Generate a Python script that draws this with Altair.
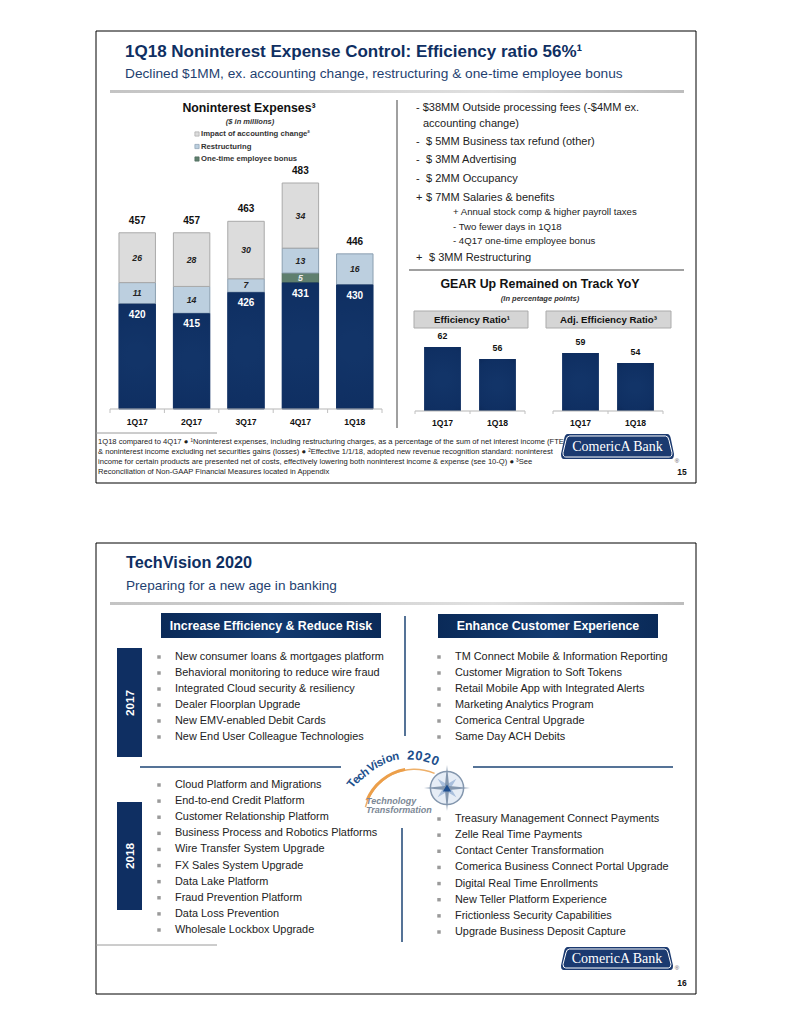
import altair as alt
import pandas as pd

SANS = "Liberation Sans"
SERIF = "Liberation Serif"
NAVY = "#0f2f62"

quarters = ["1Q17", "2Q17", "3Q17", "4Q17", "1Q18"]
base_values = [420, 415, 426, 431, 430]
bonus_values = [0, 0, 0, 5, 0]
restructuring_values = [11, 14, 7, 13, 16]
impact_values = [26, 28, 30, 34, 0]
total_values = [457, 457, 463, 483, 446]
series_names = ["Base", "One-time employee bonus", "Restructuring", "Impact of accounting change²"]
series_fill = ["#0f2f62", "#5f7f6e", "#bccfdf", "#dcdcdc"]
series_edge = ["#0f2f62", "#4f6b5c", "#8b9fb1", "#a9a9a9"]

ratio_quarters = ["1Q17", "1Q18"]
efficiency_values = [62, 56]
adjusted_values = [59, 54]

slide1_notes = [
    "1Q18 compared to 4Q17 ● ¹Noninterest expenses, including restructuring charges, as a percentage of the sum of net interest income (FTE)",
    "& noninterest income excluding net securities gains (losses) ● ²Effective 1/1/18, adopted new revenue recognition standard: noninterest",
    "income for certain products are presented net of costs, effectively lowering both noninterest income & expense (see 10-Q) ● ³See",
    "Reconciliation of Non-GAAP Financial Measures located in Appendix",
]
top_left_items = [
    "New consumer loans & mortgages platform",
    "Behavioral monitoring to reduce wire fraud",
    "Integrated Cloud security & resiliency",
    "Dealer Floorplan Upgrade",
    "New EMV-enabled Debit Cards",
    "New End User Colleague Technologies",
]
top_right_items = [
    "TM Connect Mobile & Information Reporting",
    "Customer Migration to Soft Tokens",
    "Retail Mobile App with Integrated Alerts",
    "Marketing Analytics Program",
    "Comerica Central Upgrade",
    "Same Day ACH Debits",
]
bottom_left_items = [
    "Cloud Platform and Migrations",
    "End-to-end Credit Platform",
    "Customer Relationship Platform",
    "Business Process and Robotics Platforms",
    "Wire Transfer System Upgrade",
    "FX Sales System Upgrade",
    "Data Lake Platform",
    "Fraud Prevention Platform",
    "Data Loss Prevention",
    "Wholesale Lockbox Upgrade",
]
bottom_right_items = [
    "Treasury Management Connect Payments",
    "Zelle Real Time Payments",
    "Contact Center Transformation",
    "Comerica Business Connect Portal Upgrade",
    "Digital Real Time Enrollments",
    "New Teller Platform Experience",
    "Frictionless Security Capabilities",
    "Upgrade Business Deposit Capture",
]

one = pd.DataFrame({"a": [0]})
layers = []


def add(*charts):
    layers.extend(charts)


def txt(s, x, y, size, color="#222222", bold=False, italic=False, align="left", font=SANS, angle=0):
    add(alt.Chart(pd.DataFrame({"t": [s]})).mark_text(
        align=align, baseline="middle", fontSize=size, font=font, color=color, angle=angle,
        fontWeight="bold" if bold else "normal", fontStyle="italic" if italic else "normal",
    ).encode(x=alt.value(x - 8), y=alt.value(y - 8), text="t:N"))


def seg(x1, y1, x2, y2, color, w=1.0):
    add(alt.Chart(one).mark_rule(color=color, strokeWidth=w).encode(
        x=alt.value(x1 - 8), x2=alt.value(x2 - 8), y=alt.value(y1 - 8), y2=alt.value(y2 - 8)))


def box(x1, y1, x2, y2, fill, stroke=None, w=1.0):
    kw = {"stroke": stroke, "strokeWidth": w} if stroke else {}
    add(alt.Chart(one).mark_rect(color=fill, **kw).encode(
        x=alt.value(x1 - 8), x2=alt.value(x2 - 8), y=alt.value(y1 - 8), y2=alt.value(y2 - 8)))


def hgrad(*cols):
    n = len(cols) - 1
    return alt.Gradient(gradient="linear", x1=0, x2=1, y1=0, y2=0,
                        stops=[alt.GradientStop(color=c, offset=i / n) for i, c in enumerate(cols)])


BAR_FILL = alt.Gradient(gradient="radial", x1=0.5, y1=0.5, r1=0.1, x2=0.5, y2=0.5, r2=0.75,
                        stops=[alt.GradientStop(color="#123468", offset=0),
                               alt.GradientStop(color="#0f2f62", offset=0.6),
                               alt.GradientStop(color="#0a2450", offset=1)])


def text_list(items, x, y0, y1, size, color="#222222", bullet_x=None, bold=False):
    yy = alt.Y("item:N", sort=None, axis=None,
               scale=alt.Scale(type="point", range=[y0 - 8, y1 - 8], padding=0))
    d = pd.DataFrame({"item": items})
    add(alt.Chart(d).mark_text(align="left", baseline="middle", font=SANS, fontSize=size, color=color,
                               fontWeight="bold" if bold else "normal").encode(
        x=alt.value(x - 8), y=yy, text="item:N"))
    if bullet_x is not None:
        add(alt.Chart(d).mark_square(color="#9a9a9a", size=12, opacity=1).encode(
            x=alt.value(bullet_x - 8), y=yy))


def logo_path(r):
    return (f"M-0.88,{-r:.3f}L0.88,{-r:.3f}Q0.93,{-r:.3f} 0.945,{-r * 0.6:.3f}L1,{r * 0.6:.3f}"
            f"Q1,{r:.3f} 0.95,{r:.3f}L-0.95,{r:.3f}Q-1,{r:.3f} -1,{r * 0.6:.3f}"
            f"L-0.945,{-r * 0.6:.3f}Q-0.93,{-r:.3f} -0.88,{-r:.3f}Z")


def logo(x1, y1, x2, y2, reg_x, reg_y):
    w = x2 - x1
    h = y2 - y1
    cx, cy = (x1 + x2) / 2 - 8, (y1 + y2) / 2 - 8
    add(alt.Chart(one).mark_point(shape=logo_path(h / w), size=w * w, filled=True, color="#1b3a70",
                                  opacity=1).encode(x=alt.value(cx), y=alt.value(cy)))
    add(alt.Chart(one).mark_point(shape=logo_path((h - 4) / (w - 4)), size=(w - 4) ** 2, filled=False,
                                  color="#ffffff", opacity=1, strokeWidth=1).encode(
        x=alt.value(cx), y=alt.value(cy)))
    txt("ComericA Bank", (x1 + x2) / 2, (y1 + y2) / 2, 14, color="#ffffff", align="center", font=SERIF)
    txt("®", reg_x, reg_y, 6, color="#555555", align="center")


# ---------- frames ----------
box(96, 31, 696, 483, "#ffffff", "#000000", 1)
box(96, 543, 696, 994, "#ffffff", "#000000", 1)

# ---------- slide 15 header ----------
txt("1Q18 Noninterest Expense Control: Efficiency ratio 56%¹", 125, 52, 17, NAVY, bold=True)
txt("Declined $1MM, ex. accounting change, restructuring & one-time employee bonus", 125, 74, 13.7, "#1f3f70")
box(110, 90, 684, 93, hgrad("#c4c4c4", "#d0d0d0", "#e0e0e0", "#bdbdbd"))

# ---------- noninterest expenses ----------
txt("Noninterest Expenses³", 249, 108, 12.3, "#111111", bold=True, align="center")
txt("($ in millions)", 250, 122, 7.5, "#333333", bold=True, italic=True, align="center")
text_list(series_names[3:] + series_names[2:3] + series_names[1:2], 201, 134, 159, 7.7, "#333333", bold=True)
legend_df = pd.DataFrame({"name": series_names[1:][::-1]})
add(alt.Chart(legend_df).mark_square(size=18, opacity=1, strokeWidth=0.7).encode(
    x=alt.value(197 - 8),
    y=alt.Y("name:N", sort=None, axis=None, scale=alt.Scale(type="point", range=[126, 151], padding=0)),
    color=alt.Color("name:N", legend=None, scale=alt.Scale(domain=series_names, range=series_fill)),
    stroke=alt.Stroke("name:N", legend=None, scale=alt.Scale(domain=series_names, range=series_edge)),
))

rows = []
columns = [base_values, bonus_values, restructuring_values, impact_values]
for q_i, q in enumerate(quarters):
    for s_i, name in enumerate(series_names):
        v = columns[s_i][q_i]
        if v:
            rows.append({"quarter": q, "series": name, "rank": s_i, "value": v})
stack_df = pd.DataFrame(rows)
totals_df = pd.DataFrame({"quarter": quarters, "total": total_values})

x_stack = alt.X("quarter:N", sort=quarters, axis=None,
                scale=alt.Scale(type="band", domain=quarters, range=[102, 374], paddingInner=0.33, paddingOuter=0.165))
y_scale = alt.Scale(domain=[365, 483], range=[401, 175], clamp=True, nice=False, zero=False)
stacked = alt.Chart(stack_df).transform_stack(
    stack="value", as_=["y0", "y1"], groupby=["quarter"], sort=[alt.SortField("rank")]
).transform_calculate(mid="(datum.y0 + datum.y1) / 2")

add(stacked.mark_bar(strokeWidth=1).encode(
    x=x_stack,
    y=alt.Y("y1:Q", scale=y_scale, axis=None),
    y2="y0:Q",
    color=alt.Color("series:N", legend=None, scale=alt.Scale(domain=series_names, range=series_fill)),
    stroke=alt.Stroke("series:N", legend=None, scale=alt.Scale(domain=series_names, range=series_edge)),
))
add(stacked.transform_filter("datum.rank == 0").mark_bar(color=BAR_FILL).encode(
    x=x_stack, y=alt.Y("y1:Q", scale=y_scale, axis=None), y2="y0:Q"))
add(stacked.transform_filter("datum.rank > 0").mark_text(
    font=SANS, fontSize=8.7, fontWeight="bold", fontStyle="italic", baseline="middle").encode(
    x=x_stack, y=alt.Y("mid:Q", scale=y_scale, axis=None), text="value:Q",
    color=alt.condition("datum.rank == 1", alt.value("#eeeeee"), alt.value("#222222"))))
add(stacked.transform_filter("datum.rank == 0").mark_text(
    font=SANS, fontSize=10, fontWeight="bold", baseline="middle", color="#ffffff", dy=11).encode(
    x=x_stack, y=alt.Y("y1:Q", scale=y_scale, axis=None), text="value:Q"))
add(alt.Chart(totals_df).mark_text(
    font=SANS, fontSize=10, fontWeight="bold", baseline="middle", color="#111111", dy=-12).encode(
    x=x_stack, y=alt.Y("total:Q", scale=y_scale, axis=None), text="total:Q"))
add(alt.Chart(totals_df).mark_text(
    font=SANS, fontSize=8.6, fontWeight="bold", baseline="middle", color="#111111").encode(
    x=x_stack, y=alt.value(422 - 8), text="quarter:N"))

seg(110, 409, 382, 409, "#b5b5b5", 1)
for i in range(6):
    seg(110 + i * 54.4, 409, 110 + i * 54.4, 413, "#c0c0c0", 1)

seg(397, 100, 397, 428, "#808080", 1.5)

# ---------- slide 15 right column ----------
txt("- $38MM Outside processing fees (-$4MM ex.", 416, 108, 11)
txt("accounting change)", 423, 124, 11)
txt("-", 416, 142, 11)
txt("$ 5MM Business tax refund (other)", 426, 142, 11)
txt("-", 416, 160, 11)
txt("$ 3MM Advertising", 426, 160, 11)
txt("-", 416, 179, 11)
txt("$ 2MM Occupancy", 426, 179, 11)
txt("+", 416, 197.5, 11)
txt("$ 7MM Salaries & benefits", 426, 197.5, 11)
txt("+ Annual stock comp & higher payroll taxes", 453, 212, 9.6)
txt("- Two fewer days in 1Q18", 453, 226.5, 9.6)
txt("- 4Q17 one-time employee bonus", 453, 240.5, 9.6)
txt("+", 416, 258, 11)
txt("$ 3MM Restructuring", 429, 258, 11)
seg(409, 270, 684, 270, "#808080", 1.5)

txt("GEAR Up Remained on Track YoY", 540, 284, 12.4, "#111111", bold=True, align="center")
txt("(In percentage points)", 540, 299, 7.5, "#333333", bold=True, italic=True, align="center")
box(414, 311, 528, 328, "#d5d5d5", "#ababab", 1)
box(546, 311, 671, 328, "#d5d5d5", "#ababab", 1)
txt("Efficiency Ratio¹", 472, 320, 9.7, "#111111", bold=True, align="center")
txt("Adj. Efficiency Ratio³", 608.5, 320, 9.7, "#111111", bold=True, align="center")


def ratio_panel(values, x0, x1):
    d = pd.DataFrame({"quarter": ratio_quarters, "value": values})
    xx = alt.X("quarter:N", sort=ratio_quarters, axis=None,
               scale=alt.Scale(type="band", domain=ratio_quarters, range=[x0 - 8, x1 - 8],
                               paddingInner=0.33, paddingOuter=0.165))
    yy = alt.Y("value:Q", axis=None,
               scale=alt.Scale(domain=[30, 62], range=[403, 339], nice=False, zero=False, clamp=True))
    add(alt.Chart(d).mark_bar(color=BAR_FILL).encode(x=xx, y=yy))
    add(alt.Chart(d).mark_text(font=SANS, fontSize=8.8, fontWeight="bold", color="#111111",
                               baseline="middle", dy=-11).encode(x=xx, y=yy, text="value:Q"))
    add(alt.Chart(d).mark_text(font=SANS, fontSize=8.6, fontWeight="bold", color="#111111",
                               baseline="middle").encode(x=xx, y=alt.value(423 - 8), text="quarter:N"))
    seg(x0, 411, x1, 411, "#b5b5b5", 1)
    for k in range(3):
        seg(x0 + k * (x1 - x0) / 2, 411, x0 + k * (x1 - x0) / 2, 414, "#c0c0c0", 1)


ratio_panel(efficiency_values, 415, 525)
ratio_panel(adjusted_values, 553, 663)

# ---------- slide 15 footer ----------
seg(96, 433, 217, 433, "#9a9a9a", 1)
for note, yy_ in zip(slide1_notes, [442, 452, 462, 472]):
    txt(note, 98, yy_, 7.6, "#222222")
logo(561, 434, 674, 459, 677, 461)
txt("15", 682, 472, 8.5, "#111111", bold=True, align="center")

# ---------- slide 16 header ----------
txt("TechVision 2020", 126, 563, 16.3, NAVY, bold=True)
txt("Preparing for a new age in banking", 126, 586, 13.6, "#1f3f70")
box(110, 602, 684, 605, hgrad("#c4c4c4", "#d0d0d0", "#e0e0e0", "#bdbdbd"))

box(161, 613, 381, 638, hgrad("#0a2a58", "#123a70", "#0a2a58"))
box(438, 614, 658, 638, hgrad("#0a2a58", "#123a70", "#0a2a58"))
txt("Increase Efficiency & Reduce Risk", 271, 626, 12.4, "#ffffff", bold=True, align="center")
txt("Enhance Customer Experience", 548, 626, 12.4, "#ffffff", bold=True, align="center")

box(117, 648, 142, 757, "#0f2f62")
box(117, 802, 142, 910, "#0f2f62")
txt("2017", 129.5, 703, 11.7, "#ffffff", bold=True, align="center", angle=270)
txt("2018", 129.5, 856, 11.7, "#ffffff", bold=True, align="center", angle=270)

text_list(top_left_items, 175, 657, 737, 10.9, bullet_x=159)
text_list(top_right_items, 455, 657, 737, 10.9, bullet_x=439)
text_list(bottom_left_items, 175, 785, 930, 10.9, bullet_x=159)
text_list(bottom_right_items, 455, 819, 932, 10.9, bullet_x=439)

seg(405, 616, 405, 736, "#1d4474", 1.5)
seg(402, 828, 402, 942, "#1d4474", 1.5)
seg(140, 767, 341, 767, "#1d4474", 1.5)
seg(473, 767, 673, 767, "#1d4474", 1.5)
seg(96, 945, 217, 945, "#9a9a9a", 1)

# ---------- TechVision badge ----------
add(alt.Chart(one).mark_arc(theta=4.97, theta2=6.69, innerRadius=50, outerRadius=51.5, color="#eeb06a").encode(
    x=alt.value(414.5 - 8), y=alt.value(820 - 8)))
add(alt.Chart(one).mark_arc(theta=5.1, theta2=6.1, innerRadius=50, outerRadius=53, color="#ec9f4a").encode(
    x=alt.value(414.5 - 8), y=alt.value(820 - 8)))

badge_letters = [("T", 352, 784, -52, 11.5), ("e", 356.7, 780, -45, 11.5), ("c", 360.7, 776.7, -40, 11.5),
                 ("h", 365.3, 773, -35, 11.5), ("V", 371.7, 767.7, -30, 11.5), ("i", 376, 765, -25, 11.5),
                 ("s", 380, 763, -20, 11.5), ("i", 384, 760.7, -17, 11.5), ("o", 389.3, 758.7, -14, 11.5),
                 ("n", 395.7, 757, -10, 11.5),
                 ("2", 410.7, 755.7, 2, 13), ("0", 419, 756, 8, 13), ("2", 427, 758, 15, 13), ("0", 435, 761, 22, 13)]
for ch, lx, ly, la, ls in badge_letters:
    txt(ch, lx, ly, ls, "#1c4f8c", bold=True, align="center", angle=la + 360 if la < 0 else la)
txt("Technology", 366, 801, 9, "#7c8896", bold=True, italic=True)
txt("Transformation", 366, 810, 9, "#7c8896", bold=True, italic=True)

add(alt.Chart(one).mark_point(shape="circle", size=1100, filled=True, color="#e6edf6", opacity=1,
                              stroke="#8497ae", strokeWidth=1.5).encode(x=alt.value(447 - 8), y=alt.value(788 - 8)))
STAR = "M0,-1L0.09,-0.09L1,0L0.09,0.09L0,1L-0.09,0.09L-1,0L-0.09,-0.09Z"
DIAG = "M0,-1L0.2,-0.2L1,0L0.2,0.2L0,1L-0.2,0.2L-1,0L-0.2,-0.2Z"
add(alt.Chart(one).mark_point(shape=DIAG, size=700, filled=True, color="#a9bfdc", opacity=1, angle=45).encode(
    x=alt.value(447 - 8), y=alt.value(788 - 8)))
add(alt.Chart(one).mark_point(shape=STAR, size=2116, filled=True, color="#8497ae", opacity=1).encode(
    x=alt.value(447 - 8), y=alt.value(788 - 8)))
add(alt.Chart(one).mark_point(shape="triangle-up", size=70, filled=True, color="#1f4f8f", opacity=1).encode(
    x=alt.value(447 - 8), y=alt.value(788 - 8)))

logo(561, 947, 673, 970, 677, 968)
txt("16", 682, 983, 8.5, "#111111", bold=True, align="center")

chart = alt.layer(*layers).resolve_scale(
    x="independent", y="independent", color="independent", stroke="independent"
).properties(
    width=775, height=1008, padding=0, background="#ffffff",
    autosize=alt.AutoSizeParams(type="none"),
).configure_view(stroke=None)

chart.save("out.html", embed_options={"renderer": "svg", "actions": False})
